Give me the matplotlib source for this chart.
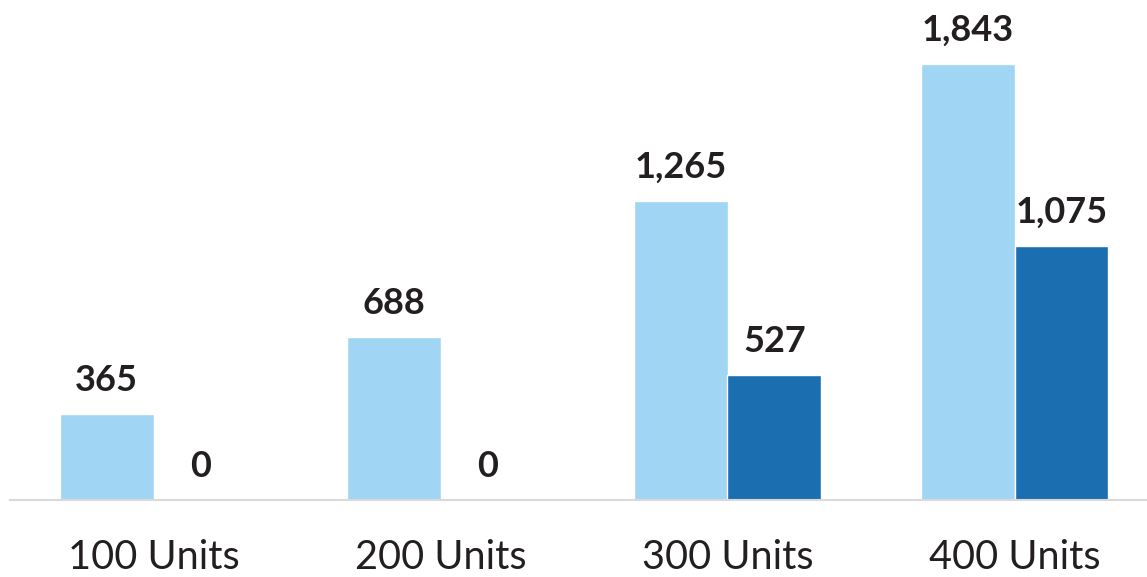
import matplotlib
matplotlib.use("Agg")
import matplotlib.pyplot as plt
import numpy as np

categories = ["100 Units", "200 Units", "300 Units", "400 Units"]
series_a = [365, 688, 1265, 1843]
series_b = [0, 0, 527, 1075]

color_a = "#a0d5f3"
color_b = "#1b6fb1"
text_color = "#231f20"

plt.rcParams['font.family'] = ['Lato', 'DejaVu Sans']

fig = plt.figure(figsize=(11.47, 5.77), dpi=100)
W, H = 1147, 577
left_px, right_px = 10, 10 + 4 * 287
bottom_px, top_px = 500, 27
ax = fig.add_axes([left_px / W, (H - bottom_px) / H, (right_px - left_px) / W, (bottom_px - top_px) / H])

x = np.arange(len(categories))
bw = 0.326
bars_a = ax.bar(x - bw / 2, series_a, width=bw, color=color_a, edgecolor='white', linewidth=1)
bars_b = ax.bar(x + bw / 2, series_b, width=bw, color=color_b, edgecolor='white', linewidth=1)

ax.set_xlim(-0.5, len(categories) - 0.5)
ax.set_ylim(0, 2000)

for bars, vals in ((bars_a, series_a), (bars_b, series_b)):
    for b, v in zip(bars, vals):
        ax.annotate(f"{v:,}", (b.get_x() + b.get_width() / 2, v),
                    xytext=(0, 16.5), textcoords='offset points',
                    ha='center', va='baseline', fontsize=26, fontweight='bold',
                    color=text_color)

for xi, c in zip(x, categories):
    ax.annotate(c, (xi, 0), xytext=(0, -49.5), textcoords='offset points',
                ha='center', va='baseline', fontsize=28.5, color=text_color,
                annotation_clip=False)

for s in ('top', 'right', 'left'):
    ax.spines[s].set_visible(False)
ax.spines['bottom'].set_color('#d9d9d9')
ax.spines['bottom'].set_linewidth(1.5)
ax.set_yticks([])
ax.set_xticks([])

fig.savefig("out.png", dpi=100)
